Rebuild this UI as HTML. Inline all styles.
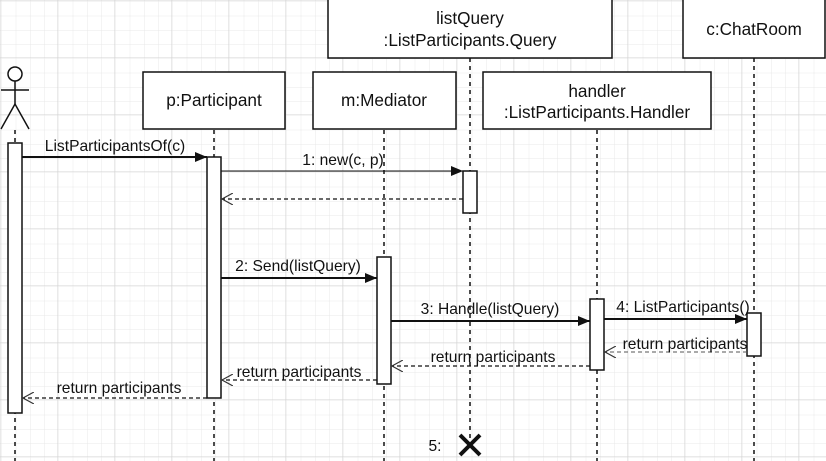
<!DOCTYPE html>
<html><head><meta charset="utf-8"><style>
html,body{margin:0;padding:0;background:#fff;}
svg{display:block;}
text{font-family:"Liberation Sans",sans-serif;font-size:15.6px;fill:#111;}
text.b{font-size:17.2px;}
</style></head><body>
<svg width="826" height="461" viewBox="0 0 826 461" xmlns="http://www.w3.org/2000/svg">
<defs>
<pattern id="minor" width="14.25" height="14.25" patternUnits="userSpaceOnUse" x="1" y="1">
<path d="M14.25 0V14.25H0" fill="none" stroke="#e8e8e8" stroke-width="1"/>
</pattern>
<pattern id="major" width="57" height="57" patternUnits="userSpaceOnUse" x="1" y="1">
<rect width="57" height="57" fill="url(#minor)"/>
<path d="M57 0V57H0" fill="none" stroke="#d4d4d4" stroke-width="1"/>
</pattern>
<marker id="fa" markerWidth="12" markerHeight="10" refX="12" refY="5" orient="auto" markerUnits="userSpaceOnUse"><path d="M0,0L12,5L0,10z" fill="#111"/></marker>
<marker id="oa" markerWidth="12" markerHeight="12" refX="11" refY="6" orient="auto" markerUnits="userSpaceOnUse"><path d="M0,0L11,6L0,12" fill="none" stroke="#333" stroke-width="1.2"/></marker>
</defs>
<rect width="826" height="461" fill="url(#major)"/>

<g stroke="#111" stroke-width="1.5" stroke-dasharray="4,4" fill="none">
<line x1="15" y1="130" x2="15" y2="461"/>
<line x1="214" y1="130" x2="214" y2="461"/>
<line x1="384" y1="130" x2="384" y2="461"/>
<line x1="470" y1="58" x2="470" y2="440"/>
<line x1="597" y1="130" x2="597" y2="461"/>
<line x1="754" y1="58" x2="754" y2="461"/>
</g>

<g stroke="#111" stroke-width="1.5" fill="#fff">
<circle cx="15" cy="74" r="7"/>
<line x1="15" y1="81" x2="15" y2="104"/>
<line x1="1" y1="90" x2="29" y2="90"/>
<path d="M1,129L15,104L29,129" fill="none"/>
</g>

<g stroke="#111" stroke-width="1.5" fill="#fff">
<rect x="143" y="72" width="142" height="57"/>
<rect x="313" y="72" width="143" height="57"/>
<rect x="328" y="-2" width="284" height="60"/>
<rect x="483" y="72" width="228" height="57"/>
<rect x="683" y="-2" width="142" height="60"/>
</g>
<g text-anchor="middle">
<text class="b" x="214" y="106">p:Participant</text>
<text class="b" x="384" y="106">m:Mediator</text>
<text class="b" x="470" y="24">listQuery</text>
<text class="b" x="470" y="46">:ListParticipants.Query</text>
<text class="b" x="597" y="97">handler</text>
<text class="b" x="597" y="118">:ListParticipants.Handler</text>
<text class="b" x="754" y="35">c:ChatRoom</text>
</g>

<g stroke="#111" stroke-width="1.5" fill="#fff">
<rect x="8" y="143" width="14" height="270"/>
<rect x="207" y="157" width="14" height="241"/>
<rect x="463" y="171" width="14" height="42"/>
<rect x="377" y="257" width="14" height="127"/>
<rect x="590" y="299" width="14" height="71"/>
<rect x="747" y="313" width="14" height="43"/>
</g>

<g stroke="#111" fill="none">
<line x1="22" y1="157" x2="207" y2="157" stroke-width="2" marker-end="url(#fa)"/>
<line x1="221" y1="171" x2="463" y2="171" stroke-width="1" marker-end="url(#fa)"/>
<line x1="463" y1="199" x2="222" y2="199" stroke-width="1.3" stroke-dasharray="4,3" marker-end="url(#oa)"/>
<line x1="221" y1="278" x2="377" y2="278" stroke-width="2" marker-end="url(#fa)"/>
<line x1="391" y1="321" x2="590" y2="321" stroke-width="2" marker-end="url(#fa)"/>
<line x1="604" y1="319" x2="747" y2="319" stroke-width="2" marker-end="url(#fa)"/>
<line x1="747" y1="352" x2="605" y2="352" stroke-width="1" stroke="#555" stroke-dasharray="4,3" marker-end="url(#oa)"/>
<line x1="590" y1="366" x2="392" y2="366" stroke-width="1.3" stroke-dasharray="4,3" marker-end="url(#oa)"/>
<line x1="377" y1="380" x2="222" y2="380" stroke-width="1.3" stroke-dasharray="4,3" marker-end="url(#oa)"/>
<line x1="207" y1="398" x2="23" y2="398" stroke-width="1.3" stroke-dasharray="4,3" marker-end="url(#oa)"/>
</g>
<g text-anchor="middle">
<text x="115" y="151">ListParticipantsOf(c)</text>
<text x="343" y="165">1: new(c, p)</text>
<text x="298" y="271">2: Send(listQuery)</text>
<text x="490" y="314">3: Handle(listQuery)</text>
<text x="683" y="312">4: ListParticipants()</text>
<text x="685" y="349">return participants</text>
<text x="493" y="362">return participants</text>
<text x="299" y="377">return participants</text>
<text x="119" y="393">return participants</text>
<text x="435" y="451">5:</text>
</g>
<g stroke="#111" stroke-width="4">
<line x1="460" y1="435" x2="480" y2="455"/>
<line x1="480" y1="435" x2="460" y2="455"/>
</g>
</svg>
</body></html>
